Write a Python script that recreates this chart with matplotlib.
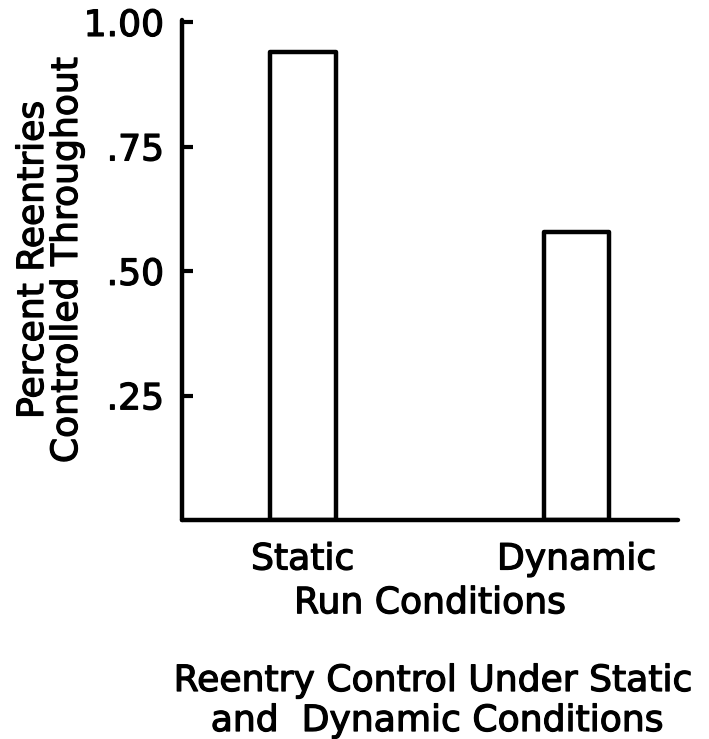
import matplotlib.pyplot as plt
import matplotlib.patheffects as pe

# run conditions and share of reentries controlled throughout
conditions = ["Static", "Dynamic"]
controlled = [0.94, 0.58]
ytick_vals = [0.25, 0.50, 0.75, 1.00]
ytick_labels = [".25", ".50", ".75", "1.00"]

plt.rcParams["font.family"] = "DejaVu Sans"
FS = 26
# slightly heavier lettering
heavy = [pe.withStroke(linewidth=0.9, foreground="black")]

fig = plt.figure(figsize=(7.09, 7.39), dpi=100)
ax = fig.add_axes([0.257, 0.296, 0.699, 0.677])

x = range(len(conditions))
ax.bar(x, controlled, width=0.24, facecolor="white", edgecolor="black",
       linewidth=3.2, joinstyle="round")

ax.set_xlim(-0.44, 1.37)
ax.set_ylim(0, 1.005)

for side in ["top", "right"]:
    ax.spines[side].set_visible(False)
for side in ["left", "bottom"]:
    ax.spines[side].set_linewidth(3.2)
    ax.spines[side].set_capstyle("round")

ax.set_yticks(ytick_vals, ytick_labels, fontsize=FS)
ax.tick_params(axis="y", direction="in", length=8, width=3, pad=13)
ax.set_xticks(list(x), conditions, fontsize=FS)
ax.tick_params(axis="x", length=0, pad=16)
ax.set_xlabel("Run Conditions", fontsize=FS, labelpad=7)

for lbl in ax.get_xticklabels() + ax.get_yticklabels():
    lbl.set_path_effects(heavy)
ax.xaxis.label.set_path_effects(heavy)

# two-line y axis title
fig.text(50 / 709, 1 - 260 / 739, "Percent Reentries\nControlled Throughout",
         rotation=90, ha="center", va="center", multialignment="center",
         fontsize=FS, linespacing=1.0, path_effects=heavy)

# figure caption under the plot
fig.text(433 / 709, 1 - 691 / 739, "Reentry Control Under Static",
         ha="center", va="baseline", fontsize=FS, path_effects=heavy)
fig.text(437 / 709, 1 - 731 / 739, "and  Dynamic Conditions",
         ha="center", va="baseline", fontsize=FS, path_effects=heavy)

plt.savefig("out.png", dpi=100)
